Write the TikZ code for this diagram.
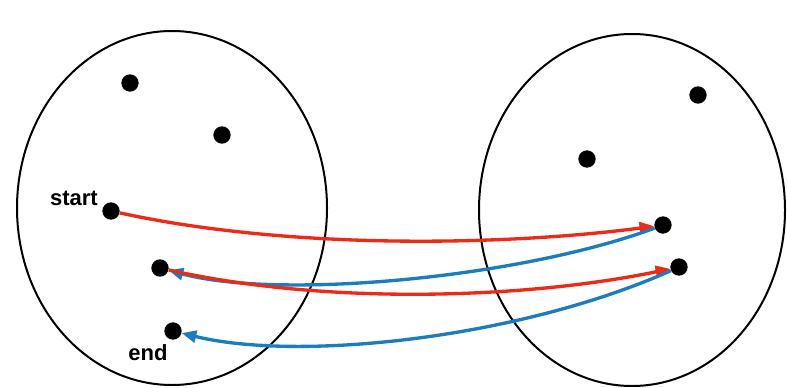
\documentclass[tikz,border=0pt]{standalone}
\usepackage{fontspec}
\setmainfont{Liberation Sans}
\usepackage{tikz}
\usetikzlibrary{arrows.meta}
\definecolor{fwdred}{HTML}{EE2A16}
\definecolor{backblue}{HTML}{1C7CC0}

\tikzset{
  dot/.style={circle, fill=black, inner sep=0pt, minimum size=13pt},
  lbl/.style={font=\fontsize{16.5}{18}\selectfont\bfseries, inner sep=0pt},
  fwd/.style={draw=fwdred, line width=2.5pt, -{Triangle[length=11pt, width=9pt]}},
  back/.style={draw=backblue, line width=2.5pt, -{Triangle[length=11pt, width=9pt]}}
}

\begin{document}
\begin{tikzpicture}[x=0.75pt, y=-0.75pt]
        \useasboundingbox (0,0) rectangle (787,388);
        % the two sets
        \draw[line width=1.5pt] (172,208) ellipse [x radius=155, y radius=177];
        \draw[line width=1.5pt] (632,210) ellipse [x radius=153, y radius=176];
        % left points
        \node[dot] (l1) at (130,83) {};
        \node[dot] (l2) at (222,135) {};
        \node[dot] (s) at (111,211) {};
        \node[dot] (l4) at (160,268) {};
        \node[dot] (e) at (173,331) {};
        % right points
        \node[dot] (r1) at (698,95) {};
        \node[dot] (r2) at (587,159) {};
        \node[dot] (r3) at (663,225) {};
        \node[dot] (r4) at (679,267) {};
        % labels
        \node[lbl, anchor=south east] at (98,206) {start};
        \node[lbl, anchor=north] at (148,344) {end};
        % connectors
        \draw[fwd] (s) .. controls (300,252) and (520,244) .. (r3);
        \draw[back] (r3) .. controls (520,278) and (280,300) .. (l4);
        \draw[fwd] (l4) .. controls (330,306) and (530,298) .. (r4);
        \draw[back] (r4) .. controls (520,338) and (300,362) .. (e);
      \end{tikzpicture}
\end{document}
